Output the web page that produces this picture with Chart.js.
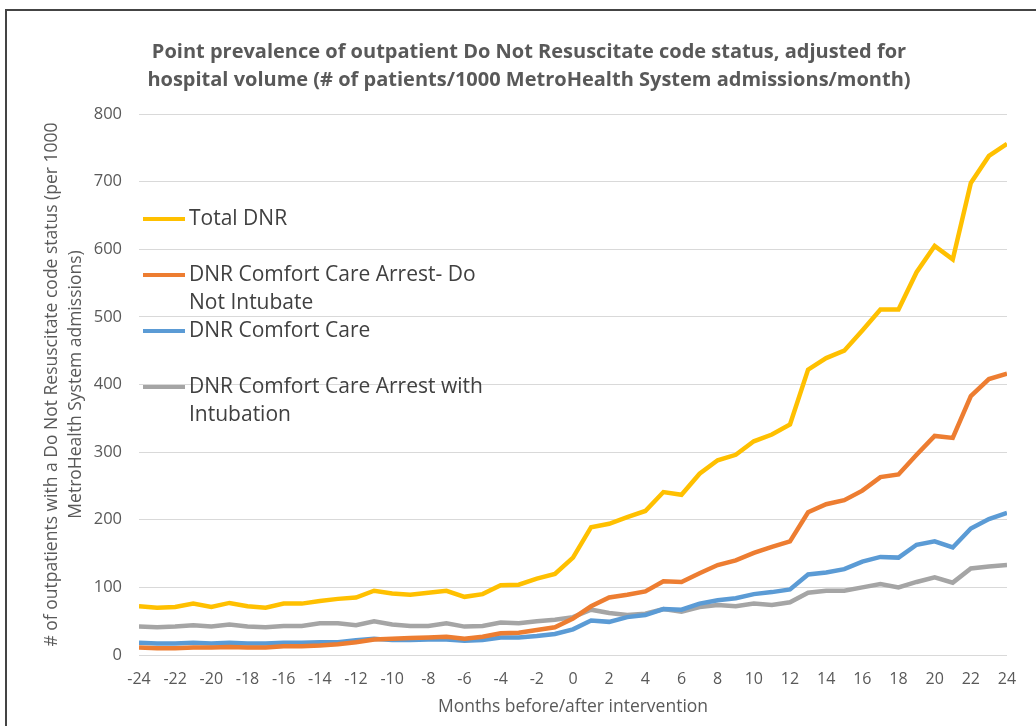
<!DOCTYPE html>
<html>
<head>
<meta charset="utf-8">
<script src="https://cdn.jsdelivr.net/npm/chart.js@4.4.1/dist/chart.umd.min.js"></script>
<style>
  html, body { margin: 0; padding: 0; background: #fff; overflow: hidden; }
  #wrap { position: relative; width: 1036px; height: 726px; }
  #frame { position: absolute; left: 5px; top: 9px; width: 1100px; height: 800px;
           border-left: 2px solid #444; border-top: 2px solid #444; pointer-events: none; }
</style>
</head>
<body>
<div id="wrap">
  <canvas id="dnrChart" width="1036" height="726"></canvas>
  <div id="frame"></div>
</div>
<script>
const months = [-24, -23, -22, -21, -20, -19, -18, -17, -16, -15, -14, -13, -12, -11, -10, -9, -8, -7, -6, -5, -4, -3, -2, -1,
  0, 1, 2, 3, 4, 5, 6, 7, 8, 9, 10, 11, 12, 13, 14, 15, 16, 17, 18, 19, 20, 21, 22, 23, 24];

const totalDnr = [72, 70, 71, 76, 71, 77, 72, 70, 76, 76, 80, 83, 85, 95, 91, 89, 92, 95, 86, 90, 103, 104, 113, 120,
  144, 189, 194, 204, 213, 241, 237, 268, 288, 296, 316, 326, 341, 422, 439, 450, 480, 511, 511, 566, 605, 585, 698, 738, 756];

const ccaDni = [11, 10, 10, 11, 11, 12, 11, 11, 13, 13, 14, 16, 19, 23, 24, 25, 26, 27, 24, 27, 32, 33, 37, 41,
  54, 72, 85, 89, 94, 109, 108, 121, 133, 140, 151, 160, 168, 211, 223, 229, 243, 263, 267, 296, 324, 321, 383, 408, 416];

const comfortCare = [18, 17, 17, 18, 17, 18, 17, 17, 18, 18, 19, 19, 22, 24, 22, 22, 23, 23, 21, 22, 26, 26, 28, 31,
  38, 51, 49, 56, 59, 68, 67, 76, 81, 84, 90, 93, 97, 119, 122, 127, 138, 145, 144, 163, 168, 159, 187, 201, 210];

const ccaIntubation = [42, 41, 42, 44, 42, 45, 42, 41, 43, 43, 47, 47, 44, 50, 45, 43, 43, 47, 42, 43, 48, 47, 50, 52,
  56, 67, 62, 59, 61, 68, 64, 71, 74, 72, 76, 74, 78, 92, 95, 95, 100, 105, 100, 108, 115, 107, 128, 131, 133];

const seriesLabels = [
  ['Total DNR'],
  ['DNR Comfort Care Arrest- Do', 'Not Intubate'],
  ['DNR Comfort Care'],
  ['DNR Comfort Care Arrest with', 'Intubation']
];
const seriesColors = ['#FFC000', '#ED7D31', '#5B9BD5', '#A5A5A5'];

const chartTitle = [
  'Point prevalence of outpatient Do Not Resuscitate code status, adjusted for',
  'hospital volume (# of patients/1000 MetroHealth System admissions/month)'
];
const yTitle = [
  '# of outpatients with a Do Not Resuscitate code status (per 1000',
  'MetroHealth System admissions)'
];
const xTitle = 'Months before/after intervention';

const FONT = '"Open Sans", "Noto Sans", sans-serif';

const toPoints = vals => vals.map((v, i) => ({ x: months[i], y: v }));

// title drawn by hand so it can sit a little right of the canvas centre, like the original
const topTitle = {
  id: 'topTitle',
  afterDraw(chart) {
    const { ctx } = chart;
    ctx.save();
    ctx.font = 'bold 20px ' + FONT;
    ctx.fillStyle = '#595959';
    ctx.textAlign = 'center';
    ctx.textBaseline = 'middle';
    chartTitle.forEach((line, k) => ctx.fillText(line, 529, 52 + k * 28));
    ctx.restore();
  }
};

// Excel-like legend placed inside the plot area, left side
const sideLegend = {
  id: 'sideLegend',
  afterDraw(chart) {
    const { ctx, chartArea } = chart;
    const x0 = chartArea.left + 4;
    let y = chartArea.top + 105;
    ctx.save();
    ctx.font = '21px ' + FONT;
    ctx.textBaseline = 'middle';
    ctx.textAlign = 'left';
    chart.data.datasets.forEach(ds => {
      ctx.strokeStyle = ds.borderColor;
      ctx.lineWidth = 4;
      ctx.beginPath();
      ctx.moveTo(x0, y);
      ctx.lineTo(x0 + 42, y);
      ctx.stroke();
      ctx.fillStyle = '#404040';
      ds.legendLines.forEach((line, k) => ctx.fillText(line, x0 + 46, y + k * 28));
      y += 56;
    });
    ctx.restore();
  }
};

new Chart(document.getElementById('dnrChart').getContext('2d'), {
  type: 'line',
  data: {
    datasets: seriesLabels.map((lbl, i) => ({
      label: lbl.join(' '),
      legendLines: lbl,
      data: toPoints([totalDnr, ccaDni, comfortCare, ccaIntubation][i]),
      borderColor: seriesColors[i],
      backgroundColor: seriesColors[i],
      borderWidth: 4.5,
      pointRadius: 0,
      tension: 0,
      fill: false
    }))
  },
  options: {
    responsive: false,
    animation: false,
    layout: { padding: { left: 30, right: 29, top: 114, bottom: 0 } },
    plugins: {
      legend: { display: false },
      tooltip: { enabled: false },
      title: { display: false }
    },
    scales: {
      x: {
        type: 'linear',
        min: -24,
        max: 24,
        grid: { display: false },
        border: { display: false },
        ticks: { stepSize: 2, color: '#595959', font: { family: FONT, size: 16 }, padding: 7, maxRotation: 0 },
        title: { display: true, text: xTitle, color: '#595959', font: { family: FONT, size: 17.5, lineHeight: 1.4 }, padding: { top: 0, bottom: 7 } },
        afterFit: scale => { scale.height = 71; }
      },
      y: {
        min: 0,
        max: 800,
        grid: { color: '#D9D9D9', lineWidth: 1, drawTicks: false },
        border: { display: false },
        ticks: { stepSize: 100, color: '#595959', font: { family: FONT, size: 16.5 }, padding: 17 },
        title: { display: true, text: yTitle, color: '#595959', font: { family: FONT, size: 17.5, lineHeight: 1.37 }, padding: { top: 10, bottom: 0 } },
        afterFit: scale => { scale.width = 109; }
      }
    }
  },
  plugins: [topTitle, sideLegend]
});
</script>
</body>
</html>
